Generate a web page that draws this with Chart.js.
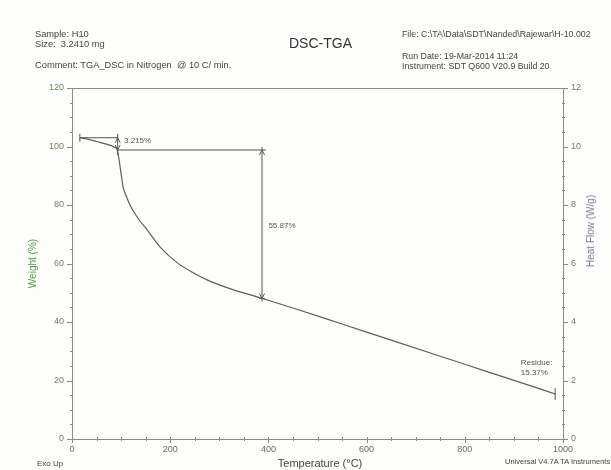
<!DOCTYPE html>
<html>
<head>
<meta charset="utf-8">
<script src="https://cdn.jsdelivr.net/npm/chart.js@4"></script>
<style>
  html, body { margin: 0; padding: 0; background: #fdfdfb; }
  #wrap { position: relative; width: 611px; height: 470px; background: #fdfdfb; overflow: hidden; font-family: "Liberation Sans", Arial, sans-serif; }
  canvas { position: absolute; left: 0; top: 0; }
  .t { position: absolute; white-space: pre; color: #444; font-size: 9.3px; line-height: 11px; }
  .r { font-size: 8.8px; }
</style>
</head>
<body>
<div id="wrap">
  <canvas id="c" width="611" height="470"></canvas>
  <div class="t" style="left:35px;top:29px;">Sample: H10</div>
  <div class="t" style="left:35px;top:39px;">Size:  3.2410 mg</div>
  <div class="t" style="left:35px;top:60px;">Comment: TGA_DSC in Nitrogen  @ 10 C/ min.</div>
  <div class="t" style="left:289px;top:35px;font-size:14px;line-height:17px;color:#333;">DSC-TGA</div>
  <div class="t r" style="left:402px;top:29px;">File: C:\TA\Data\SDT\Nanded\Rajewar\H-10.002</div>
  <div class="t r" style="left:402px;top:51px;">Run Date: 19-Mar-2014 11:24</div>
  <div class="t r" style="left:402px;top:61px;">Instrument: SDT Q600 V20.9 Build 20</div>
  <div class="t" style="left:37px;top:459px;font-size:8px;line-height:10px;">Exo Up</div>
  <div class="t" style="left:320px;top:463px;font-size:11px;line-height:13px;transform:translate(-50%,-50%);">Temperature (°C)</div>
  <div class="t" style="left:505px;top:457px;font-size:7.5px;line-height:10px;">Universal V4.7A TA Instruments</div>
  <div class="t" style="left:591px;top:231px;font-size:10px;line-height:12px;color:#7a7a8e;transform:translate(-50%,-50%) rotate(-90deg);">Heat Flow (W/g)</div>
</div>
<script>
// ---- data ----
const temperatures = [16, 30, 50, 70, 85, 92, 95, 98, 101, 104, 111, 118, 135, 153, 180, 214, 245, 275, 320, 383, 450, 550, 650, 750, 850, 950, 984];
const weights      = [103.0, 102.6, 101.7, 100.8, 99.9, 98.9, 96.5, 93.0, 89.5, 86.2, 82.8, 80.0, 75.3, 71.5, 65.5, 60.3, 57.0, 54.4, 51.5, 48.3, 44.8, 39.3, 33.8, 28.3, 22.8, 17.3, 15.4];
const xTickValues  = [0, 200, 400, 600, 800, 1000];
const yTickValues  = [0, 20, 40, 60, 80, 100, 120];
const y2TickValues = [0, 2, 4, 6, 8, 10, 12];
// step annotations (temperature, weight)
const step1 = { tStart: 16, tEnd: 93, wTop: 103.0, wBottom: 98.8, label: '3.215%', labelT: 106, labelW: 101.9 };
const step2 = { tArrow: 387, tLineEnd: 395, wTop: 98.8, wBottom: 48.0, label: '55.87%', labelT: 400, labelW: 72.8 };
const residue = { t: 984, w: 15.4, labelT: 914, labelW1: 26.0, labelW2: 22.6, lines: ['Residue:', '15.37%'] };

const points = temperatures.map((t, i) => ({ x: t, y: weights[i] }));

const axisColor = '#8a8a8a';
const annColor = '#555555';

function seg(ctx, x1, y1, x2, y2) { ctx.beginPath(); ctx.moveTo(x1, y1); ctx.lineTo(x2, y2); ctx.stroke(); }

const decor = {
  id: 'decor',
  afterDatasetsDraw(chart) {
    const { ctx, chartArea: a, scales } = chart;
    const x = scales.x, y = scales.y, y2 = scales.y2;
    ctx.save();
    ctx.lineWidth = 1;
    ctx.strokeStyle = axisColor;
    // top frame
    seg(ctx, a.left, a.top + 0.5, a.right, a.top + 0.5);
    // left ticks
    for (let v = 0; v <= 120; v += 5) {
      const p = Math.round(y.getPixelForValue(v)) + 0.5;
      if (v % 20 === 0) seg(ctx, a.left - 5, p, a.left, p); else seg(ctx, a.left - 2, p, a.left + 1, p);
    }
    // right ticks
    for (let v = 0; v <= 12; v += 0.5) {
      const p = Math.round(y2.getPixelForValue(v)) + 0.5;
      if (v % 2 === 0) seg(ctx, a.right, p, a.right + 5, p); else seg(ctx, a.right - 1, p, a.right + 2, p);
    }
    // bottom ticks
    for (let v = 0; v <= 1000; v += 50) {
      const p = Math.round(x.getPixelForValue(v)) + 0.5;
      if (v % 200 === 0) seg(ctx, p, a.bottom - 2, p, a.bottom + 4); else seg(ctx, p, a.bottom - 2, p, a.bottom + 2);
    }

    // annotations
    ctx.strokeStyle = annColor;
    ctx.fillStyle = annColor;
    const px = v => x.getPixelForValue(v), py = v => y.getPixelForValue(v);
    function arrowHead(xp, yp, dir) { // dir -1 up, +1 down
      ctx.beginPath();
      ctx.moveTo(xp - 2.5, yp - dir * 5);
      ctx.lineTo(xp, yp);
      ctx.lineTo(xp + 2.5, yp - dir * 5);
      ctx.stroke();
    }
    // step 1
    const s1x0 = px(step1.tStart), s1x1 = px(step1.tEnd);
    const s1yt = py(step1.wTop), s1yb = py(step1.wBottom);
    seg(ctx, s1x0, s1yt, s1x1, s1yt);
    seg(ctx, s1x0, s1yt - 4, s1x0, s1yt + 4);
    seg(ctx, s1x1, s1yt - 4, s1x1, s1yb + 5);
    arrowHead(s1x1, s1yt, -1);
    arrowHead(s1x1, s1yb, 1);
    // step 2
    const s2x = px(step2.tArrow), s2xe = px(step2.tLineEnd);
    const s2yt = py(step2.wTop), s2yb = py(step2.wBottom);
    seg(ctx, s1x1, s2yt, s2xe, s2yt);
    seg(ctx, s2x, s2yt - 3, s2x, s2yb + 3);
    seg(ctx, s2x - 3, s2yb, s2x + 3, s2yb);
    arrowHead(s2x, s2yt, -1);
    arrowHead(s2x, s2yb, 1);
    // residue end marker
    const rx = px(residue.t), ry = py(residue.w);
    seg(ctx, rx, ry - 6, rx, ry + 6);

    ctx.font = '8px "Liberation Sans", Arial, sans-serif';
    ctx.textBaseline = 'middle';
    ctx.textAlign = 'left';
    ctx.fillText(step1.label, px(step1.labelT), py(step1.labelW));
    ctx.fillText(step2.label, px(step2.labelT), py(step2.labelW));
    ctx.fillText(residue.lines[0], px(residue.labelT), py(residue.labelW1));
    ctx.fillText(residue.lines[1], px(residue.labelT), py(residue.labelW2));
    ctx.restore();
  }
};

const plainLabel = v => String(v);

new Chart(document.getElementById('c'), {
  type: 'scatter',
  data: {
    datasets: [{
      label: 'Weight (%)',
      data: points,
      showLine: true,
      borderColor: '#55654a',
      borderWidth: 1.2,
      pointRadius: 0,
      cubicInterpolationMode: 'monotone',
      fill: false
    }]
  },
  options: {
    responsive: false,
    animation: false,
    layout: { padding: { top: 88, left: 0, right: 0, bottom: 0 } },
    plugins: { legend: { display: false }, tooltip: { enabled: false } },
    scales: {
      x: {
        type: 'linear', min: 0, max: 1000,
        afterBuildTicks: s => { s.ticks = xTickValues.map(v => ({ value: v })); },
        afterFit: s => { s.height = 31; },
        grid: { display: false, drawTicks: false },
        border: { display: true, color: axisColor, width: 1 },
        ticks: { padding: 5, color: '#666', font: { size: 9, family: '"Liberation Sans", Arial' }, maxRotation: 0, callback: plainLabel }
      },
      y: {
        type: 'linear', position: 'left', min: 0, max: 120,
        afterBuildTicks: s => { s.ticks = yTickValues.map(v => ({ value: v })); },
        afterFit: s => { s.width = 72; },
        grid: { display: false, drawTicks: false },
        border: { display: true, color: axisColor, width: 1 },
        ticks: { padding: 8, color: '#6c8a60', font: { size: 9, family: '"Liberation Sans", Arial' }, callback: plainLabel },
        title: { display: true, text: 'Weight (%)', color: '#4f9a45', font: { size: 10, family: '"Liberation Sans", Arial' }, padding: { top: 27, bottom: 0 } }
      },
      y2: {
        type: 'linear', position: 'right', min: 0, max: 12,
        afterBuildTicks: s => { s.ticks = y2TickValues.map(v => ({ value: v })); },
        afterFit: s => { s.width = 48; },
        grid: { display: false, drawTicks: false },
        border: { display: true, color: axisColor, width: 1 },
        ticks: { padding: 8, color: '#777', font: { size: 9, family: '"Liberation Sans", Arial' }, callback: plainLabel }
      }
    }
  },
  plugins: [decor]
});
</script>
</body>
</html>
